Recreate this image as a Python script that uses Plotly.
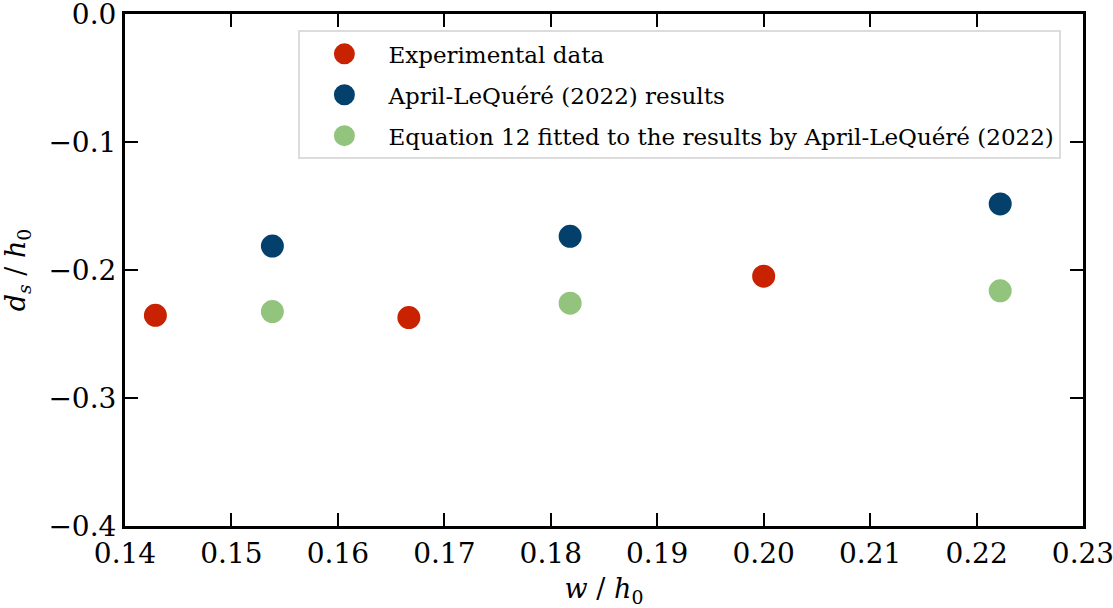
import plotly.graph_objects as go

# Dimensionless gap width w/h0 and settling depth ds/h0
exp_w = [1/7, 1/6, 0.20]
exp_ds = [-0.2354, -0.2372, -0.2048]

sim_w = [2/13, 2/11, 2/9]
sim_ds = [-0.1813, -0.1737, -0.1484]

fit_w = [2/13, 2/11, 2/9]
fit_ds = [-0.2325, -0.2259, -0.2163]

names = [
    "Experimental data",
    "April-LeQuéré (2022) results",
    "Equation 12 fitted to the results by April-LeQuéré (2022)",
]
colors = ["#c92200", "#03406c", "#93c47e"]

x_ticks = [0.14, 0.15, 0.16, 0.17, 0.18, 0.19, 0.20, 0.21, 0.22, 0.23]
x_tick_text = ["0.14", "0.15", "0.16", "0.17", "0.18", "0.19", "0.20", "0.21", "0.22", "0.23"]
y_ticks = [-0.4, -0.3, -0.2, -0.1, 0.0]
y_tick_text = ["\u22120.4", "\u22120.3", "\u22120.2", "\u22120.1", "0.0"]

FONT = "DejaVu Serif"

fig = go.Figure()
for i, (xs, ys, name, c) in enumerate(zip([exp_w, sim_w, fit_w], [exp_ds, sim_ds, fit_ds], names, colors)):
    fig.add_trace(go.Scatter(
        x=xs, y=ys, mode="markers", name=name, legendgroup=f"g{i}",
        marker=dict(size=18, color=c, line=dict(color=c, width=5)),
    ))

axis_common = dict(
    showline=True, linecolor="black", linewidth=3, mirror="ticks",
    ticks="inside", ticklen=13, tickwidth=2, tickcolor="black",
    showgrid=False, zeroline=False, automargin=False,
    ticklabeloverflow="allow",
    tickfont=dict(family=FONT, size=28, color="black"),
)

fig.update_xaxes(
    range=[0.14, 0.23], tickvals=x_ticks, ticktext=x_tick_text,
    title=dict(text="<i>w</i> / <i>h</i><sub>0</sub>", font=dict(family=FONT, size=27, color="black"), standoff=22),
    **axis_common,
)
fig.update_yaxes(
    range=[-0.4, 1e-9], tickvals=y_ticks, ticktext=y_tick_text,
    title=dict(text="<i>d<sub>s</sub></i> / <i>h</i><sub>0</sub>", font=dict(family=FONT, size=27, color="black"), standoff=22),
    **axis_common,
)

fig.update_layout(
    width=1113, height=608,
    margin=dict(l=125, r=30, t=14, b=82),
    plot_bgcolor="white", paper_bgcolor="white",
    font=dict(family=FONT, color="black"),
    legend=dict(
        x=0.181, y=0.968, xanchor="left", yanchor="top",
        bgcolor="rgba(255,255,255,0.9)", bordercolor="#dcdcdc", borderwidth=2,
        font=dict(family=FONT, size=23, color="black"),
        itemwidth=78, tracegroupgap=8,
    ),
)

fig.write_html("out.html")
